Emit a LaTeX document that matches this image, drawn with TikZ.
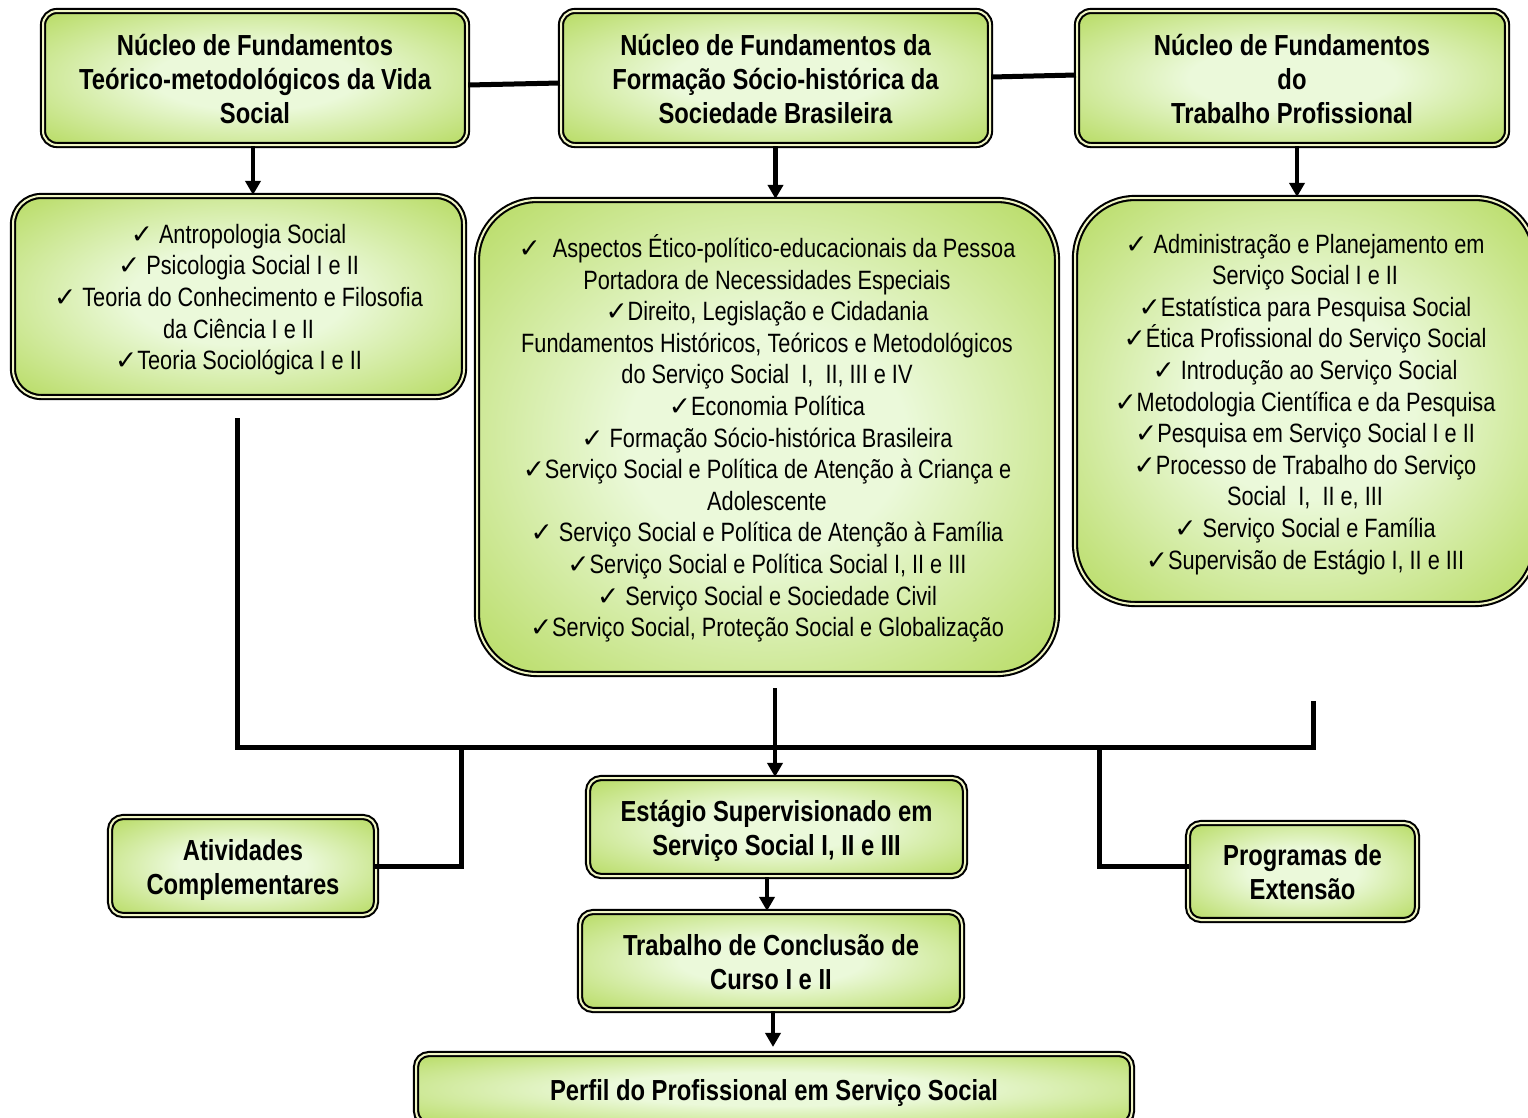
\documentclass[tikz,border=0pt]{standalone}
\usepackage{fontspec}
\setmainfont{Liberation Sans}[FakeStretch=0.82]
\newfontfamily\symf{DejaVu Sans}
\usetikzlibrary{arrows.meta}
\definecolor{gin}{HTML}{EBF9DA}
\definecolor{gout}{HTML}{9BCB22}
\definecolor{gapc}{HTML}{F0F6C4}
\pgfdeclareradialshading{gshade}{\pgfpoint{0bp}{0bp}}{color(0bp)=(gin); color(12bp)=(gin); color(48bp)=(gout); color(50bp)=(gout)}
\newcommand\ck{{\symf ✓}}
\newcommand\fs{\rule{0pt}{1.06em}}
\newcommand\ls{\rule[-0.3em]{0pt}{0pt}}
\begin{document}
\begin{tikzpicture}[x=1pt,y=-1pt,
 gbox/.style={shade, shading=gshade, draw=black, line width=2.1pt, double=gapc, double distance=2pt, inner sep=0pt, align=center, anchor=center},
 ttl/.style={gbox, rounded corners=14pt, font=\bfseries\fontsize{29}{34}\selectfont},
 lst/.style={gbox, font=\fontsize{26.5}{31.6}\selectfont},
 conn/.style={line width=5pt, line join=miter, line cap=rect},
 arr/.style={line width=4.5pt, -{Triangle[length=14pt,width=15pt]}}
]
\useasboundingbox (0,0) rectangle (1528,1117);
\clip (0,0) rectangle (1528,1117);

% top boxes
\node[ttl, minimum width=424pt, minimum height=134pt] (t1) at (255,78)
 {\fs Núcleo de Fundamentos\\Teórico-metodológicos da Vida\\Social\ls};
\node[ttl, minimum width=429pt, minimum height=134pt] (t2) at (775.5,78)
 {\fs Núcleo de Fundamentos da\\Formação Sócio-histórica da\\Sociedade Brasileira\ls};
\node[ttl, minimum width=430pt, minimum height=134pt] (t3) at (1292,78)
 {\fs Núcleo de Fundamentos\\do\\Trabalho Profissional\ls};

% list boxes
\node[lst, rounded corners=28pt, minimum width=451pt, minimum height=201pt] (l1) at (238.5,296.5)
 {\fs\ck\ Antropologia Social\\
  \ck\ Psicologia Social I e II\\
  \ck\ Teoria do Conhecimento e Filosofia\\
  da Ciência I e II\\
  \ck Teoria Sociológica I e II\ls};
\node[lst, rounded corners=60pt, minimum width=580pt, minimum height=474pt] (l2) at (767,437)
 {\fs\ck\ \ Aspectos Ético-político-educacionais da Pessoa\\
  Portadora de Necessidades Especiais\\
  \ck Direito, Legislação e Cidadania\\
  Fundamentos Históricos, Teóricos e Metodológicos\\
  do Serviço Social\ \ I,\ \ II, III e IV\\
  \ck Economia Política\\
  \ck\ Formação Sócio-histórica Brasileira\\
  \ck Serviço Social e Política de Atenção à Criança e\\
  Adolescente\\
  \ck\ Serviço Social e Política de Atenção à Família\\
  \ck Serviço Social e Política Social I, II e III\\
  \ck\ Serviço Social e Sociedade Civil\\
  \ck Serviço Social, Proteção Social e Globalização\ls};
\node[lst, rounded corners=60pt, minimum width=460pt, minimum height=406pt] (l3) at (1305,401)
 {\fs\ck\ Administração e Planejamento em\\
  Serviço Social I e II\\
  \ck Estatística para Pesquisa Social\\
  \ck Ética Profissional do Serviço Social\\
  \ck\ Introdução ao Serviço Social\\
  \ck Metodologia Científica e da Pesquisa\\
  \ck Pesquisa em Serviço Social I e II\\
  \ck Processo de Trabalho do Serviço\\
  Social\ \ I,\ \ II e, III\\
  \ck\ Serviço Social e Família\\
  \ck Supervisão de Estágio I, II e III\ls};

% lower boxes
\node[ttl, rounded corners=13pt, minimum width=377pt, minimum height=98pt] (es) at (776.5,827)
 {\fs Estágio Supervisionado em\\Serviço Social I, II e III\ls};
\node[ttl, rounded corners=13pt, minimum width=382pt, minimum height=98pt] (tr) at (771,961)
 {\fs Trabalho de Conclusão de\\Curso I e II\ls};
\node[ttl, rounded corners=13pt, minimum width=716pt, minimum height=70pt] (pf) at (774,1089)
 {\fs Perfil do Profissional em Serviço Social\ls};
\node[ttl, rounded corners=13pt, minimum width=266pt, minimum height=98pt] (at) at (243,866)
 {\fs Atividades\\Complementares\ls};
\node[ttl, rounded corners=13pt, minimum width=229pt, minimum height=97pt] (pe) at (1302.5,871.5)
 {\fs Programas de\\Extensão\ls};

% coordinates for bus
\coordinate (l1e) at (237,420);
\coordinate (l2e) at (775,688);
\coordinate (l3e) at (1313,703);
\coordinate (bl) at (237,747);
\coordinate (br) at (1313,747);
\coordinate (jl) at (461,747);
\coordinate (jr) at (1099,747);

% connectors between top boxes
\draw[line width=5pt] ([yshift=-7pt]t1.east) -- ([yshift=-5pt]t2.west);
\draw[line width=5pt] ([yshift=1pt]t2.east) -- ([yshift=3pt]t3.west);

% arrows down
\draw[arr] ([xshift=-2pt]t1.south) -- ([xshift=-2pt]t1.south |- l1.north);
\draw[arr] (t2.south) -- (t2.south |- l2.north);
\draw[arr] ([xshift=5pt]t3.south) -- ([xshift=5pt]t3.south |- l3.north);

% bus
\draw[conn] (l1e) -- (bl) -- (br) -- (l3e);
\draw[conn] (jl) |- (at.east);
\draw[conn] (jr) |- ([yshift=5.5pt]pe.west);
\draw[arr] (l2e) -- (l2e |- es.north);

% lower arrows
\draw[arr] ([xshift=-9.5pt]es.south) -- ([xshift=-9.5pt]es.south |- tr.north);
\draw[arr, shorten >=6pt] ([xshift=2pt]tr.south) -- ([xshift=2pt]tr.south |- pf.north);
\end{tikzpicture}
\end{document}
